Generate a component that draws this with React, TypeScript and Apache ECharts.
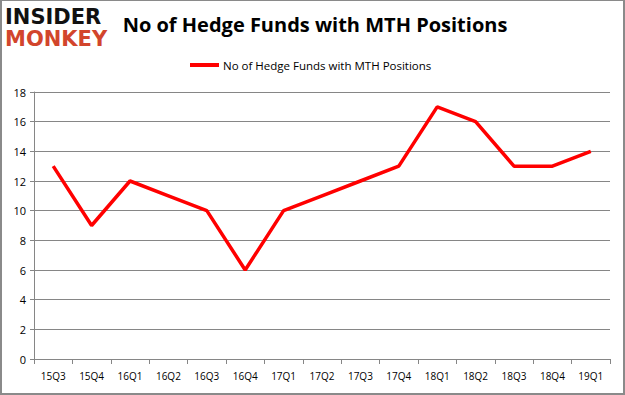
import React, { useEffect, useRef } from "react";
import * as echarts from "echarts";

const categories = ["15Q3", "15Q4", "16Q1", "16Q2", "16Q3", "16Q4", "17Q1", "17Q2", "17Q3", "17Q4", "18Q1", "18Q2", "18Q3", "18Q4", "19Q1"];
const hedgeFunds = [13, 9, 12, 11, 10, 6, 10, 11, 12, 13, 17, 16, 13, 13, 14];
const seriesName = "No of Hedge Funds with MTH Positions";
const titleText = "No of Hedge Funds with MTH Positions";

export default function App() {
  const ref = useRef<HTMLDivElement>(null);
  useEffect(() => {
    document.body.style.margin = "0";
    const chart = echarts.init(ref.current!, null, { renderer: "svg" });
    chart.setOption({
      animation: false,
      backgroundColor: "#ffffff",
      title: {
        text: titleText,
        left: 308,
        textAlign: "center",
        top: 8,
        textStyle: { fontFamily: "Open Sans", fontWeight: "bold", fontSize: 20, color: "#000" },
      },
      legend: {
        top: 53,
        left: 183,
        itemWidth: 29,
        itemHeight: 4,
        itemGap: 4,
        icon: "rect",
        data: [seriesName],
        textStyle: { fontFamily: "Open Sans", fontSize: 11.5, color: "#000", padding: [0, 0, 0, -1] },
      },
      graphic: [
        {
          type: "text",
          left: 3,
          top: 5,
          style: { text: "INSIDER", fontFamily: "DejaVu Sans", fontWeight: "bold", fontSize: 21, fill: "#111" },
        },
        {
          type: "text",
          left: 3,
          top: 27,
          style: { text: "MONKEY", fontFamily: "DejaVu Sans", fontWeight: "bold", fontSize: 21, fill: "#d2452c" },
        },
      ],
      grid: { left: 32, right: 13, top: 91, bottom: 34 },
      xAxis: {
        type: "category",
        data: categories,
        boundaryGap: true,
        axisLine: { lineStyle: { color: "#868686" } },
        axisTick: { show: true, length: 5, lineStyle: { color: "#868686" } },
        axisLabel: { fontFamily: "Open Sans", fontSize: 10, color: "#000", margin: 12 },
      },
      yAxis: {
        type: "value",
        min: 0,
        max: 18,
        interval: 2,
        axisLine: { show: true, lineStyle: { color: "#868686" } },
        axisTick: { show: true, length: 4, lineStyle: { color: "#868686" } },
        splitLine: { lineStyle: { color: "#868686" } },
        axisLabel: { fontFamily: "Open Sans", fontSize: 11, color: "#000", margin: 8 },
      },
      series: [
        {
          name: seriesName,
          type: "line",
          data: hedgeFunds,
          symbol: "none",
          lineStyle: { color: "#ff0000", width: 3.5 },
          itemStyle: { color: "#ff0000" },
        },
      ],
    });
    return () => chart.dispose();
  }, []);
  return (
    <div
      ref={ref}
      style={{ width: 625, height: 395, boxSizing: "border-box", border: "2px solid #8a8a8a", borderTop: "1px solid #8a8a8a" }}
    />
  );
}
